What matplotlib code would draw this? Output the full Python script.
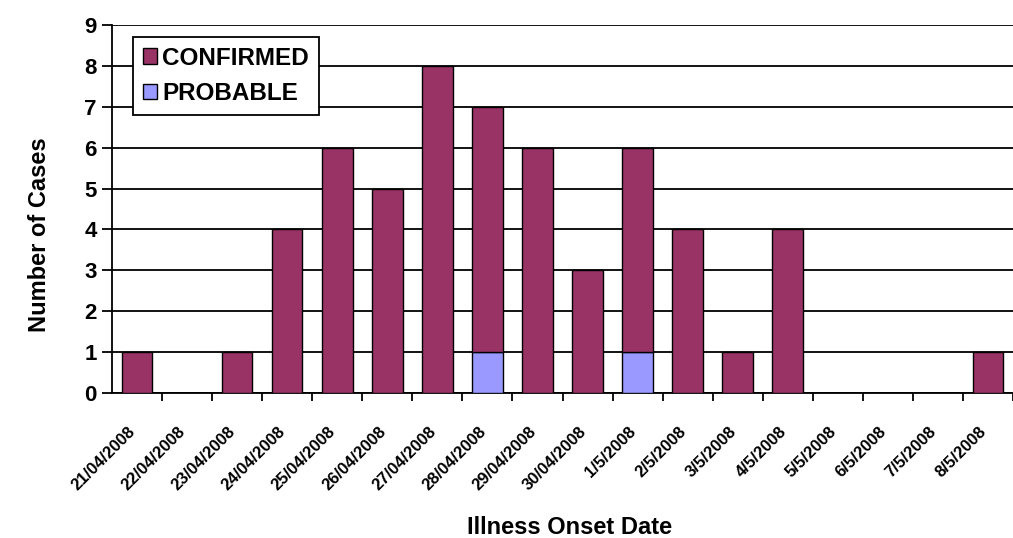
import numpy as np
import matplotlib
matplotlib.use('Agg')
from matplotlib import pyplot as plt
from matplotlib.patches import Patch
from matplotlib.transforms import ScaledTranslation

# illness onset dates and case counts
dates = ['21/04/2008', '22/04/2008', '23/04/2008', '24/04/2008', '25/04/2008',
         '26/04/2008', '27/04/2008', '28/04/2008', '29/04/2008', '30/04/2008',
         '1/5/2008', '2/5/2008', '3/5/2008', '4/5/2008', '5/5/2008',
         '6/5/2008', '7/5/2008', '8/5/2008']
probable = [0, 0, 0, 0, 0, 0, 0, 1, 0, 0, 1, 0, 0, 0, 0, 0, 0, 0]
confirmed = [1, 0, 1, 4, 6, 5, 8, 6, 6, 3, 5, 4, 1, 4, 0, 0, 0, 1]
y_ticks = list(range(0, 10))

CONF_COLOR = '#993366'
PROB_COLOR = '#9999FF'
FONT = ['Liberation Sans Narrow', 'Liberation Sans', 'DejaVu Sans']

W, H = 1013, 538
fig = plt.figure(figsize=(W / 100, H / 100), dpi=100)
# axes box in pixels: left spine at x=112, zero line y=393, top grid y=25
ax = fig.add_axes([112 / W, (H - 393) / H, (W - 112) / W, (393 - 25) / H])

x = np.arange(len(dates))
bar_w = 0.61
ax.bar(x, probable, bar_w, color=PROB_COLOR, edgecolor='black', linewidth=1.0, zorder=3)
ax.bar(x, confirmed, bar_w, bottom=probable, color=CONF_COLOR, edgecolor='black',
       linewidth=1.0, zorder=3)

ax.set_ylim(0, 9)
ax.set_xlim(-0.5, len(dates) - 1 + bar_w / 2 + 0.02)

# grid lines
ax.set_yticks(y_ticks)
ax.yaxis.grid(True, color='black', linewidth=1.3, zorder=0)
ax.set_axisbelow(True)
for s in ['top', 'right']:
    ax.spines[s].set_visible(False)
ax.spines['left'].set_linewidth(1.3)
ax.spines['bottom'].set_linewidth(1.3)

ax.set_yticklabels([str(v) for v in y_ticks], family=FONT, fontsize=16, fontweight='bold')
ax.tick_params(axis='y', direction='out', length=7, width=1.3, pad=4)

# category labels at centres, tick marks at boundaries
ax.set_xticks(x)
ax.set_xticklabels(dates, family=FONT, fontsize=12, fontweight='bold',
                   rotation=45, ha='right', va='center', rotation_mode='anchor')
ax.tick_params(axis='x', which='major', length=0, pad=26)
ax.set_xticks(np.arange(len(dates)) + 0.5, minor=True)
ax.tick_params(axis='x', which='minor', direction='out', length=6, width=1.3)
offset = ScaledTranslation(-4 / 100, 0, fig.dpi_scale_trans)
for lbl in ax.get_xticklabels():
    lbl.set_transform(lbl.get_transform() + offset)

fig.text(40 / W, 1 - 235 / H, 'Number of Cases', rotation=90, ha='center', va='center',
         family=FONT, fontsize=17, fontweight='bold')
fig.text(570 / W, 1 - 527 / H, 'Illness Onset Date', ha='center', va='center',
         family=FONT, fontsize=17, fontweight='bold')

handles = [Patch(facecolor=CONF_COLOR, edgecolor='black', label='CONFIRMED'),
           Patch(facecolor=PROB_COLOR, edgecolor='black', label='PROBABLE')]
leg = fig.legend(handles=handles, loc='upper left', bbox_to_anchor=(133 / W, 1 - 37 / H),
                 prop={'family': FONT, 'size': 17.5, 'weight': 'bold'},
                 frameon=True, fancybox=False, edgecolor='black', framealpha=1,
                 handlelength=0.6, handleheight=0.6, handletextpad=0.2,
                 borderpad=0.4, labelspacing=0.5, borderaxespad=0)
leg.get_frame().set_linewidth(1.3)

fig.savefig('out.png', dpi=100)
